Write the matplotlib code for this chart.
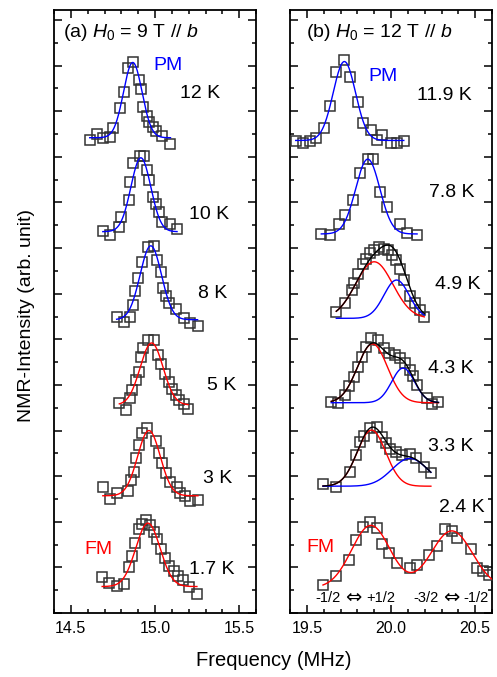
import numpy as np
import matplotlib
matplotlib.use("Agg")
import matplotlib.pyplot as plt
from matplotlib.ticker import MultipleLocator

plt.rcParams["font.family"] = ["Liberation Sans", "DejaVu Sans"]
plt.rcParams["mathtext.fontset"] = "custom"
plt.rcParams["mathtext.rm"] = "Liberation Sans"
plt.rcParams["mathtext.it"] = "Liberation Sans:italic"

# ----- (a) H0 = 9 T : spectra (frequency in MHz, stacked intensity) -----
f_a_12 = [14.612, 14.655, 14.690, 14.735, 14.749, 14.792, 14.818, 14.840, 14.871, 14.906,
          14.916, 14.929, 14.951, 14.965, 14.988, 15.004, 15.043, 15.092]
i_a_12 = [10.37, 10.50, 10.41, 10.43, 10.63, 11.08, 11.42, 11.95, 12.08, 11.69,
          11.48, 11.10, 10.90, 10.77, 10.66, 10.57, 10.45, 10.29]

f_a_10 = [14.690, 14.734, 14.788, 14.800, 14.843, 14.853, 14.871, 14.912, 14.935, 14.955,
          14.965, 14.988, 15.004, 15.024, 15.043, 15.092, 15.131]
i_a_10 = [8.38, 8.29, 8.46, 8.68, 9.06, 9.46, 9.86, 10.01, 10.01, 9.71,
          9.50, 9.13, 8.97, 8.80, 8.58, 8.53, 8.41]

f_a_8 = [14.772, 14.818, 14.851, 14.871, 14.882, 14.900, 14.925, 14.961, 14.994, 15.014,
         15.034, 15.047, 15.066, 15.082, 15.125, 15.171, 15.210, 15.253]
i_a_8 = [6.48, 6.37, 6.50, 6.75, 7.05, 7.34, 7.70, 8.03, 8.05, 7.73,
         7.48, 7.12, 6.95, 6.80, 6.66, 6.46, 6.35, 6.29]

f_a_5 = [14.788, 14.828, 14.851, 14.866, 14.890, 14.902, 14.916, 14.929, 14.961, 14.994,
         15.018, 15.034, 15.059, 15.082, 15.102, 15.122, 15.145, 15.171, 15.196]
i_a_5 = [4.61, 4.44, 4.71, 4.89, 5.11, 5.29, 5.62, 5.80, 5.99, 5.99,
         5.66, 5.46, 5.24, 5.07, 4.91, 4.78, 4.67, 4.58, 4.47]

f_a_3 = [14.690, 14.734, 14.772, 14.837, 14.857, 14.876, 14.890, 14.906, 14.925, 14.955,
         15.004, 15.024, 15.043, 15.066, 15.092, 15.131, 15.151, 15.176, 15.210, 15.255]
i_a_3 = [2.77, 2.49, 2.63, 2.68, 2.92, 3.10, 3.39, 3.68, 3.94, 4.05,
         3.76, 3.50, 3.28, 3.06, 2.88, 2.77, 2.64, 2.57, 2.46, 2.48]

f_a_17 = [14.686, 14.729, 14.772, 14.818, 14.847, 14.866, 14.882, 14.906, 14.925, 14.949,
          14.969, 14.994, 15.014, 15.034, 15.059, 15.082, 15.112, 15.137, 15.165, 15.200, 15.249]
i_a_17 = [0.78, 0.66, 0.59, 0.64, 1.00, 1.25, 1.53, 1.84, 1.95, 2.04,
          1.93, 1.78, 1.62, 1.40, 1.20, 1.03, 0.91, 0.81, 0.72, 0.58, 0.42]

temps_a = ["12 K", "10 K", "8 K", "5 K", "3 K", "1.7 K"]
phase_a = ["PM", "PM", "PM", "FM", "FM", "FM"]
base_a = [10.42, 8.36, 6.43, 4.56, 2.57, 0.58]
center_a = [14.868, 14.916, 14.975, 14.980, 14.964, 14.958]
amp_a = [1.65, 1.62, 1.62, 1.36, 1.43, 1.39]
fwhm_a = [0.13, 0.139, 0.15, 0.16, 0.158, 0.17]

# ----- (b) H0 = 12 T -----
f_b_119 = [19.434, 19.478, 19.518, 19.557, 19.600, 19.639, 19.675, 19.718, 19.759, 19.802,
           19.835, 19.881, 19.916, 19.949, 19.998, 20.037, 20.076]
i_b_119 = [10.34, 10.30, 10.34, 10.41, 10.64, 11.12, 11.87, 12.13, 11.75, 11.21,
           10.75, 10.58, 10.37, 10.48, 10.31, 10.31, 10.34]

f_b_78 = [19.586, 19.635, 19.694, 19.724, 19.772, 19.818, 19.861, 19.896, 19.935, 19.978,
          20.053, 20.096, 20.155]
i_b_78 = [8.31, 8.29, 8.53, 8.73, 9.06, 9.64, 9.95, 9.95, 9.22, 8.90,
          8.53, 8.34, 8.29]

f_b_49 = [19.675, 19.724, 19.766, 19.782, 19.806, 19.835, 19.851, 19.876, 19.900, 19.929,
          19.959, 19.982, 20.008, 20.031, 20.053, 20.076, 20.112, 20.145, 20.175, 20.198]
i_b_49 = [6.61, 6.80, 7.08, 7.23, 7.43, 7.65, 7.76, 7.89, 7.95, 8.02,
          7.98, 7.96, 7.85, 7.74, 7.54, 7.30, 6.95, 6.79, 6.64, 6.48]

f_b_43 = [19.645, 19.688, 19.724, 19.753, 19.782, 19.802, 19.826, 19.852, 19.881, 19.924,
          19.959, 19.988, 20.024, 20.053, 20.082, 20.112, 20.129, 20.155, 20.212, 20.243, 20.282]
i_b_43 = [4.63, 4.60, 4.78, 4.98, 5.18, 5.40, 5.62, 5.84, 6.02, 5.99,
          5.80, 5.71, 5.66, 5.59, 5.48, 5.33, 5.20, 5.00, 4.71, 4.58, 4.63]

f_b_33 = [19.596, 19.675, 19.759, 19.792, 19.818, 19.837, 19.876, 19.916, 19.945, 19.969,
          19.994, 20.030, 20.067, 20.112, 20.151, 20.194, 20.237]
i_b_33 = [2.83, 2.76, 3.10, 3.46, 3.75, 3.88, 4.05, 4.07, 3.85, 3.72,
          3.59, 3.52, 3.46, 3.49, 3.39, 3.20, 3.06]

f_b_24 = [19.596, 19.671, 19.753, 19.792, 19.831, 19.876, 19.919, 19.949, 19.988, 20.037,
          20.110, 20.155, 20.224, 20.276, 20.322, 20.361, 20.390, 20.478, 20.508, 20.547, 20.582]
i_b_24 = [0.61, 0.81, 1.16, 1.60, 1.88, 2.00, 1.86, 1.51, 1.31, 1.10,
          0.98, 1.05, 1.27, 1.47, 1.84, 1.80, 1.64, 1.40, 0.98, 0.91, 0.83]

temps_b = ["11.9 K", "7.8 K", "4.9 K", "4.3 K", "3.3 K", "2.4 K"]
base_b = [10.36, 8.31, 6.46, 4.61, 2.78, 0.55]
# first line (PM line, or lower-frequency FM line)
c1_b = [19.723, 19.862, 19.900, 19.890, 19.884, 19.880]
a1_b = [1.73, 1.64, 1.24, 1.29, 1.23, 1.37]
w1_b = [0.156, 0.169, 0.26, 0.21, 0.20, 0.27]
# second line (higher-frequency component), absent in PM
c2_b = [None, None, 20.033, 20.072, 20.112, 20.361]
a2_b = [0.0, 0.0, 0.84, 0.76, 0.61, 1.25]
w2_b = [0.1, 0.1, 0.176, 0.16, 0.25, 0.29]

# transition labels under the 2.4 K spectrum: (left, right)
trans_b = [("-1/2", "+1/2"), ("-3/2", "-1/2")]

BLUE = "#0000ff"
RED = "#ff0000"


def gauss(x, c, a, w):
    return a * np.exp(-4.0 * np.log(2.0) * (x - c) ** 2 / w ** 2)


def style_axis(ax, xlim, major):
    ax.set_xlim(*xlim)
    ax.set_ylim(0, 13.22)
    ax.xaxis.set_major_locator(MultipleLocator(major))
    ax.xaxis.set_minor_locator(MultipleLocator(0.1))
    ax.yaxis.set_major_locator(MultipleLocator(1))
    ax.yaxis.set_minor_locator(MultipleLocator(0.5))
    ax.tick_params(which="both", direction="in", top=True, right=True,
                   labelleft=False, width=1.1, labelsize=11.5, pad=6)
    ax.tick_params(which="major", length=6)
    ax.tick_params(which="minor", length=2.8)
    for s in ax.spines.values():
        s.set_linewidth(1.3)


def draw_points(ax, f, y):
    ax.plot(f, y, ls="none", marker="s", ms=6.7, mfc="none", mec="#333333", mew=1.1, zorder=3)


fig = plt.figure(figsize=(4.97, 6.77), dpi=100)
ax_a = fig.add_axes([54 / 497, 64 / 677, 202 / 497, 603 / 677])
ax_b = fig.add_axes([290 / 497, 64 / 677, 202 / 497, 603 / 677])

# ---- panel (a) ----
spec_a = [(f_a_12, i_a_12), (f_a_10, i_a_10), (f_a_8, i_a_8),
          (f_a_5, i_a_5), (f_a_3, i_a_3), (f_a_17, i_a_17)]
label_y_a = [11.38, 8.74, 7.0, 4.99, 2.94, 0.96]
label_x_a = [15.147, 15.20, 15.255, 15.308, 15.288, 15.204]
for k, (f, y) in enumerate(spec_a):
    draw_points(ax_a, f, y)
    xx = np.linspace(min(f), max(f), 300)
    col = BLUE if phase_a[k] == "PM" else RED
    ax_a.plot(xx, base_a[k] + gauss(xx, center_a[k], amp_a[k], fwhm_a[k]), color=col, lw=1.0, zorder=4)
    ax_a.text(label_x_a[k], label_y_a[k], temps_a[k], fontsize=14, va="center", ha="left")

ax_a.text(14.452, 12.72, r"(a) $H_0$ = 9 T // $b$", fontsize=14, va="center", ha="left")
ax_a.text(15.076, 12.0, "PM", color=BLUE, fontsize=14, va="center", ha="center")
ax_a.text(14.665, 1.39, "FM", color=RED, fontsize=14, va="center", ha="center")
style_axis(ax_a, (14.4, 15.6), 0.5)

# ---- panel (b) ----
spec_b = [(f_b_119, i_b_119), (f_b_78, i_b_78), (f_b_49, i_b_49),
          (f_b_43, i_b_43), (f_b_33, i_b_33), (f_b_24, i_b_24)]
label_y_b = [11.35, 9.22, 7.21, 5.37, 3.65, 2.31]
label_x_b = [20.155, 20.228, 20.263, 20.218, 20.218, 20.286]
for k, (f, y) in enumerate(spec_b):
    draw_points(ax_b, f, y)
    x_end = 20.6 if k == 5 else max(f)
    xx = np.linspace(min(f), x_end, 400)
    p1 = gauss(xx, c1_b[k], a1_b[k], w1_b[k])
    if c2_b[k] is None:
        ax_b.plot(xx, base_b[k] + p1, color=BLUE, lw=1.0, zorder=4)
    else:
        p2 = gauss(xx, c2_b[k], a2_b[k], w2_b[k])
        if k == 5:
            ax_b.plot(xx, base_b[k] + p1 + p2, color=RED, lw=1.0, zorder=4)
        else:
            ax_b.plot(xx, base_b[k] + p1, color=RED, lw=1.0, zorder=4)
            ax_b.plot(xx, base_b[k] + p2, color=BLUE, lw=1.0, zorder=4)
            ax_b.plot(xx, base_b[k] + p1 + p2, color="black", lw=1.0, zorder=5)
    ax_b.text(label_x_b[k], label_y_b[k], temps_b[k], fontsize=14, va="center", ha="left")

ax_b.text(19.495, 12.72, r"(b) $H_0$ = 12 T // $b$", fontsize=14, va="center", ha="left")
ax_b.text(19.953, 11.76, "PM", color=BLUE, fontsize=14, va="center", ha="center")
ax_b.text(19.582, 1.43, "FM", color=RED, fontsize=14, va="center", ha="center")

# transition labels: arrow drawn in DejaVu Sans (full-size glyph)
arrow_x = [19.774, 20.356]
for (lo, hi), xa in zip(trans_b, arrow_x):
    ax_b.text(xa, 0.35, "\u21d4", fontsize=14, family="DejaVu Sans", va="center", ha="center")
    ax_b.text(xa - 0.076, 0.33, lo, fontsize=10.5, va="center", ha="right")
    ax_b.text(xa + 0.076, 0.33, hi, fontsize=10.5, va="center", ha="left")
style_axis(ax_b, (19.4, 20.6), 0.5)

fig.text(27 / 497, 1 - 316 / 677, "NMR-Intensity (arb. unit)", rotation=90,
         fontsize=14, va="center", ha="center")
fig.text(274 / 497, 1 - 660 / 677, "Frequency (MHz)", fontsize=14.5, va="center", ha="center")

fig.savefig("out.png", dpi=100)
